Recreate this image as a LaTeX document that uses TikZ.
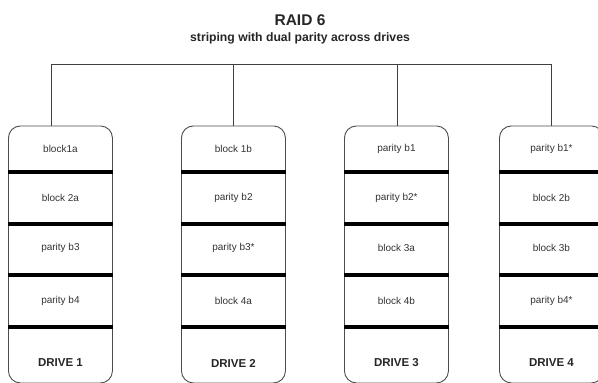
\documentclass[tikz,border=0pt]{standalone}
\usepackage{fontspec}
\setmainfont{Liberation Sans}
\begin{document}
\begin{tikzpicture}[x=1pt,y=-1pt,
  drivebox/.style={draw=black!70,line width=0.9pt,rounded corners=12pt,
    minimum width=104pt,minimum height=257pt,inner sep=0pt,anchor=north west},
  bar/.style={line width=4pt,black},
  wire/.style={draw=black!75,line width=0.9pt},
  celltext/.style={font=\fontsize{10}{12}\selectfont,text=black!80},
  drivetext/.style={font=\fontsize{11.5}{13}\selectfont\bfseries,text=black!85},
]
\useasboundingbox (0,0) rectangle (598,383);
\clip (0,0) rectangle (598,383);

% heading
\node[font=\fontsize{15.5}{17}\selectfont\bfseries,text=black!85] (title) at (300,20) {RAID 6};
\node[font=\fontsize{12.2}{14}\selectfont\bfseries,text=black!85] (subtitle) at (300,38) {striping with dual parity across drives};

% drive outlines
\node[drivebox] (d1) at (8,125.5) {};
\node[drivebox] (d2) at (181,125.5) {};
\node[drivebox] (d3) at (344,125.5) {};
\node[drivebox] (d4) at (499,125.5) {};

% bus taps
\coordinate (t1) at (51,64);
\coordinate (t2) at (233,64);
\coordinate (t3) at (397,64);
\coordinate (t4) at (551,64);
\draw[wire] (t1) -- (t4);
\foreach \i in {1,...,4} \draw[wire] (t\i) -- (t\i |- d\i.north);

% stripe separators
\foreach \i in {1,...,4}
  \foreach \y in {172,224,275,327}
    \draw[bar] (d\i.west |- 0,\y) -- (d\i.east |- 0,\y);

% cell contents, one column per drive
\foreach \i/\a/\b/\c/\d in {1/block1a/block 2a/parity b3/parity b4,
                            2/block 1b/parity b2/parity b3*/block 4a,
                            3/parity b1/parity b2*/block 3a/block 4b,
                            4/parity b1*/block 2b/block 3b/parity b4*}{
  \node[celltext] (c\i a) at (d\i.north |- 0,149) {\a};
  \node[celltext] (c\i b) at (d\i.north |- 0,198) {\b};
  \node[celltext] (c\i c) at (d\i.north |- 0,248) {\c};
  \node[celltext] (c\i d) at (d\i.north |- 0,301) {\d};
  \node[drivetext] (l\i) at (d\i.north |- 0,363) {DRIVE \i};
}
\end{tikzpicture}
\end{document}
